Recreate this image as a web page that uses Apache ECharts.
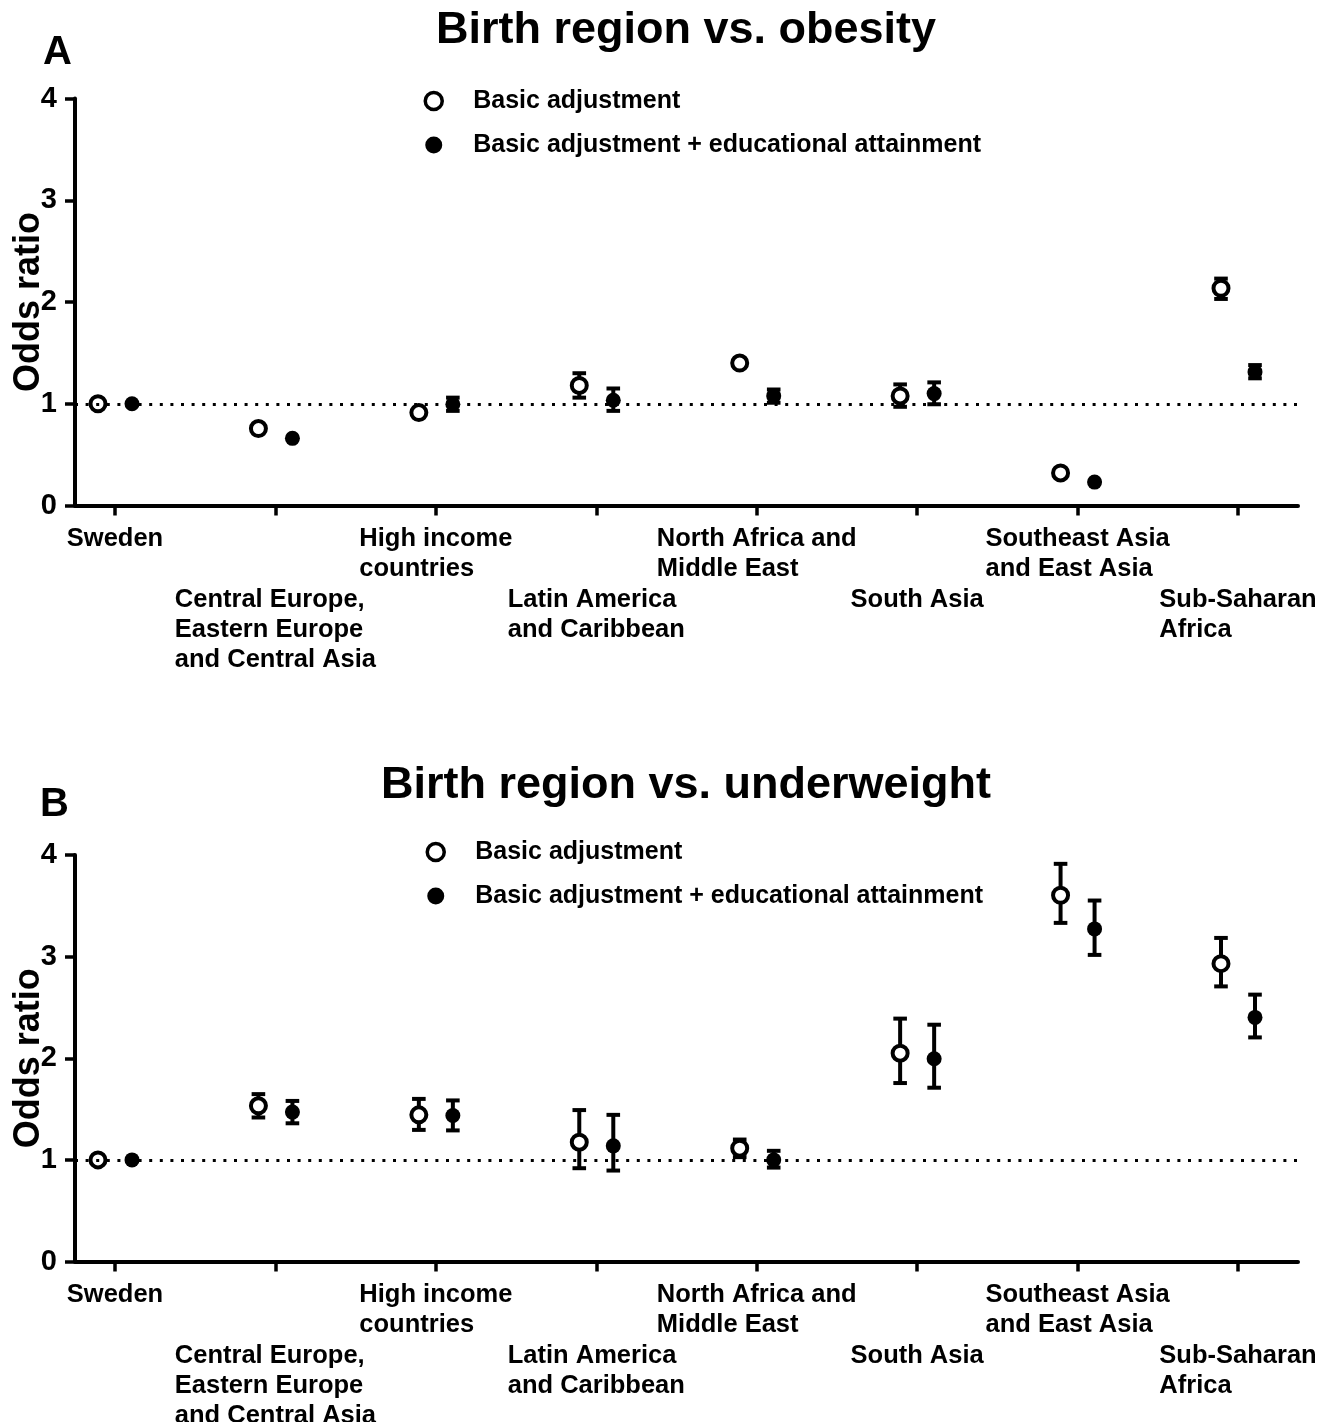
<!DOCTYPE html>
<html>
<head>
<meta charset="utf-8">
<script src="https://cdn.jsdelivr.net/npm/echarts@6/dist/echarts.min.js"></script>
<style>
html,body{margin:0;padding:0;background:#fff;}
#chart{width:1333px;height:1422px;}
</style>
</head>
<body>
<div id="chart"></div>
<script>
// ---------- data ----------
const categories = [
  'Sweden',
  'Central Europe,\nEastern Europe\nand Central Asia',
  'High income\ncountries',
  'Latin America\nand Caribbean',
  'North Africa and\nMiddle East',
  'South Asia',
  'Southeast Asia\nand East Asia',
  'Sub-Saharan\nAfrica'
];
const labelTier = [0, 1, 0, 1, 0, 1, 0, 1];
const yTicks = [0, 1, 2, 3, 4];
const seriesNames = ['Basic adjustment', 'Basic adjustment + educational attainment'];
const panelTitles = ['Birth region vs. obesity', 'Birth region vs. underweight'];
const panelLetters = ['A', 'B'];

// Panel A: obesity
const obesityBasic     = [1.00, 0.756, 0.913, 1.18, 1.40, 1.077, 0.32, 2.135];
const obesityBasicLow  = [null, null, null, 1.06, null, 0.97, null, 2.03];
const obesityBasicHigh = [null, null, null, 1.30, null, 1.19, null, 2.23];
const obesityEdu       = [1.00, 0.66, 0.995, 1.035, 1.077, 1.10, 0.23, 1.313];
const obesityEduLow    = [null, null, 0.93, 0.93, 1.01, 0.995, null, 1.25];
const obesityEduHigh   = [null, null, 1.06, 1.15, 1.14, 1.21, null, 1.38];

// Panel B: underweight
const uwBasic     = [1.00, 1.532, 1.443, 1.174, 1.115, 2.05, 3.604, 2.931];
const uwBasicLow  = [null, 1.417, 1.295, 0.918, 1.027, 1.756, 3.332, 2.707];
const uwBasicHigh = [null, 1.647, 1.60, 1.49, 1.20, 2.39, 3.913, 3.184];
const uwEdu       = [1.00, 1.47, 1.436, 1.138, 1.00, 1.995, 3.273, 2.402];
const uwEduLow    = [null, 1.36, 1.29, 0.895, 0.924, 1.71, 3.017, 2.205];
const uwEduHigh   = [null, 1.58, 1.585, 1.443, 1.089, 2.33, 3.552, 2.626];

const referenceOR = 1;

// ---------- build ----------
const FONT = '"Liberation Sans", Arial, Helvetica, sans-serif';
const OFF = 0.106; // horizontal offset of the two estimates within a category
const X_MIN = -0.2493, X_MAX = 7.374;
const catIdx = categories.map((c, i) => i);
const upperIdx = catIdx.filter(i => !labelTier[i]);
const lowerIdx = catIdx.filter(i => labelTier[i]);

function pts(vals, off) { return vals.map((v, i) => [i + off, v]); }
function errs(lo, hi, off) {
  const out = [];
  lo.forEach((l, i) => { if (l != null && hi[i] != null) out.push([i + off, l, hi[i]]); });
  return out;
}

function renderErr(params, api) {
  const x = api.value(0), lo = api.value(1), hi = api.value(2);
  const pL = api.coord([x, lo]), pH = api.coord([x, hi]);
  const hw = 6.8;
  const st = { stroke: '#000', lineWidth: 4 };
  return {
    type: 'group',
    children: [
      { type: 'line', shape: { x1: pL[0], y1: pL[1], x2: pH[0], y2: pH[1] }, style: st },
      { type: 'line', shape: { x1: pH[0] - hw, y1: pH[1], x2: pH[0] + hw, y2: pH[1] }, style: st },
      { type: 'line', shape: { x1: pL[0] - hw, y1: pL[1], x2: pL[0] + hw, y2: pL[1] }, style: st }
    ]
  };
}

const openStyle = { color: '#fff', borderColor: '#000', borderWidth: 4, opacity: 1 };
const fillStyle = { color: '#000', borderWidth: 0, opacity: 1 };

function panelSeries(k, basic, bLo, bHi, edu, eLo, eHi) {
  const xi = 2 * k;
  return [
    {
      type: 'custom', name: 'err-basic-' + k, xAxisIndex: xi, yAxisIndex: k, z: 2,
      renderItem: renderErr, encode: { x: 0, y: [1, 2] },
      data: errs(bLo, bHi, -OFF), silent: true,
      markLine: {
        silent: true, symbol: 'none', animation: false,
        label: { show: false },
        lineStyle: { color: '#000', width: 3, type: [3, 7.6], opacity: 1 },
        data: [{ yAxis: referenceOR }]
      }
    },
    {
      type: 'custom', name: 'err-edu-' + k, xAxisIndex: xi, yAxisIndex: k, z: 2,
      renderItem: renderErr, encode: { x: 0, y: [1, 2] },
      data: errs(eLo, eHi, OFF), silent: true
    },
    {
      type: 'scatter', name: seriesNames[0], xAxisIndex: xi, yAxisIndex: k, z: 3,
      symbol: 'circle', symbolSize: 15, itemStyle: openStyle,
      emphasis: { disabled: true },
      data: pts(basic, -OFF)
    },
    {
      type: 'scatter', name: seriesNames[1], xAxisIndex: xi, yAxisIndex: k, z: 3,
      symbol: 'circle', symbolSize: 15, itemStyle: fillStyle,
      emphasis: { disabled: true },
      data: pts(edu, OFF)
    }
  ];
}

function labelFormatter(v) {
  const i = Math.round(v);
  return categories[i].split('\n').map(s => '{t|' + s + '}').join('\n');
}
const labelRich = {
  t: { fontFamily: FONT, fontSize: 25.5, fontWeight: 'bold', lineHeight: 30, align: 'left', color: '#000' }
};

// tier: 0 = upper labels + axis line + ticks, 1 = lower labels only
function xAxisDef(k, tier) {
  return {
    type: 'value', gridIndex: k, min: X_MIN, max: X_MAX, position: 'bottom',
    splitLine: { show: false },
    axisLine: { show: tier === 0, onZero: false, lineStyle: { color: '#000', width: 4 } },
    axisTick: { show: tier === 0, length: 10, customValues: catIdx, lineStyle: { color: '#000', width: 3.5 } },
    axisLabel: {
      show: true, customValues: tier === 0 ? upperIdx : lowerIdx,
      margin: tier === 0 ? 18 : 79, color: '#000',
      showMinLabel: true, showMaxLabel: true, hideOverlap: false,
      formatter: labelFormatter,
      rich: labelRich
    }
  };
}

function yAxisDef(k) {
  return {
    type: 'value', gridIndex: k, min: yTicks[0], max: yTicks[yTicks.length - 1], interval: 1,
    name: 'Odds ratio', nameLocation: 'middle', nameRotate: 90, nameGap: 28, nameMoveOverlap: false,
    nameTextStyle: { fontFamily: FONT, fontSize: 36, fontWeight: 'bold', color: '#000' },
    splitLine: { show: false },
    axisLine: { show: true, onZero: false, lineStyle: { color: '#000', width: 4 } },
    axisTick: { show: true, length: 10, lineStyle: { color: '#000', width: 3.5 } },
    axisLabel: { fontFamily: FONT, fontSize: 29, fontWeight: 'bold', color: '#000', margin: 18 }
  };
}

function legendDef(k, left, top) {
  return {
    orient: 'vertical', left: left, top: top, itemWidth: 17, itemHeight: 17, itemGap: 19,
    padding: 0, selectedMode: false,
    textStyle: { fontFamily: FONT, fontSize: 25, fontWeight: 'bold', color: '#000', lineHeight: 14, padding: [0, 0, 0, 26] },
    data: [
      { name: seriesNames[0], icon: 'circle', itemStyle: { color: '#fff', borderColor: '#000', borderWidth: 3.5, opacity: 1 } },
      { name: seriesNames[1], icon: 'circle', itemStyle: { color: '#000', borderWidth: 0, opacity: 1 } }
    ]
  };
}

const option = {
  animation: false,
  backgroundColor: '#fff',
  textStyle: { fontFamily: FONT },
  title: [
    { text: panelTitles[0], left: 686, top: 6, textAlign: 'center', padding: 0,
      textStyle: { fontFamily: FONT, fontSize: 45, fontWeight: 'bold', color: '#000', lineHeight: 50 } },
    { text: panelLetters[0], left: 43, top: 31, padding: 0,
      textStyle: { fontFamily: FONT, fontSize: 40, fontWeight: 'bold', color: '#000', lineHeight: 44 } },
    { text: panelTitles[1], left: 686, top: 761, textAlign: 'center', padding: 0,
      textStyle: { fontFamily: FONT, fontSize: 45, fontWeight: 'bold', color: '#000', lineHeight: 50 } },
    { text: panelLetters[1], left: 40, top: 783, padding: 0,
      textStyle: { fontFamily: FONT, fontSize: 40, fontWeight: 'bold', color: '#000', lineHeight: 44 } }
  ],
  legend: [legendDef(0, 423.5, 88.5), legendDef(1, 425.5, 839.5)],
  grid: [
    { left: 75, right: 35, top: 98.5, height: 407, containLabel: false, outerBoundsMode: 'none' },
    { left: 75, right: 35, top: 855, height: 406.5, containLabel: false, outerBoundsMode: 'none' }
  ],
  xAxis: [xAxisDef(0, 0), xAxisDef(0, 1), xAxisDef(1, 0), xAxisDef(1, 1)],
  yAxis: [yAxisDef(0), yAxisDef(1)],
  series: [].concat(
    panelSeries(0, obesityBasic, obesityBasicLow, obesityBasicHigh, obesityEdu, obesityEduLow, obesityEduHigh),
    panelSeries(1, uwBasic, uwBasicLow, uwBasicHigh, uwEdu, uwEduLow, uwEduHigh)
  )
};

const chart = echarts.init(document.getElementById('chart'), null, { renderer: 'canvas' });
chart.setOption(option);
</script>
</body>
</html>
